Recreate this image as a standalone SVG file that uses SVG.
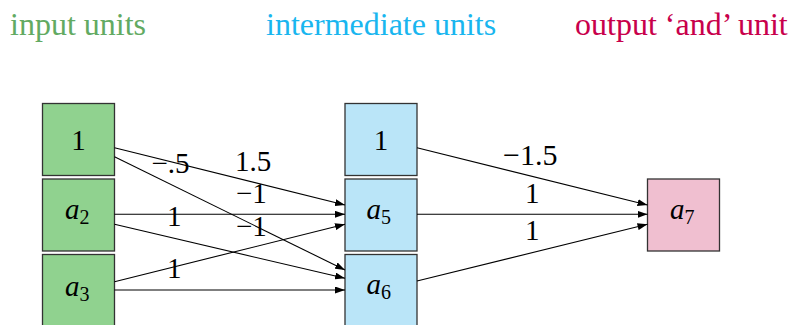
<svg xmlns="http://www.w3.org/2000/svg" width="794" height="325" viewBox="0 0 794 325" font-family="Liberation Serif, serif">
  <defs>
    <marker id="arrow" markerUnits="userSpaceOnUse" markerWidth="10" markerHeight="7" refX="10" refY="3.5" orient="auto">
      <path d="M0,0 L10,3.5 L0,7 z" fill="#000"/>
    </marker>
    <style>
      .box { stroke: #333; stroke-width: 1.3; }
      .in { fill: #90d28f; }
      .mid { fill: #bae5f8; }
      .out { fill: #f0bfd0; }
      .edge { stroke: #000; stroke-width: 1.1; fill: none; marker-end: url(#arrow); }
    </style>
  </defs>
  <rect width="794" height="325" fill="#fff"/>

  <!-- column headings -->
  <g font-size="32">
    <text x="10" y="35" fill="#62aa62">input units</text>
    <text x="266" y="35" fill="#19b6ef">intermediate units</text>
    <text x="575" y="35" fill="#c8004b">output ‘and’ unit</text>
  </g>

  <!-- input layer -->
  <g id="in-bias" font-size="29">
    <rect class="box in" x="42.5" y="103.5" width="72" height="72"/>
    <text x="78.5" y="150" text-anchor="middle">1</text>
  </g>
  <g id="a2" font-size="29">
    <rect class="box in" x="42.5" y="179" width="72" height="72"/>
    <text x="65" y="218.5" font-style="italic">a<tspan font-size="20" font-style="normal" dy="5">2</tspan></text>
  </g>
  <g id="a3" font-size="29">
    <rect class="box in" x="42.5" y="254.5" width="72" height="72"/>
    <text x="65" y="295.5" font-style="italic">a<tspan font-size="20" font-style="normal" dy="5">3</tspan></text>
  </g>

  <!-- intermediate layer -->
  <g id="mid-bias" font-size="29">
    <rect class="box mid" x="345" y="103.5" width="72" height="72"/>
    <text x="381" y="149.5" text-anchor="middle">1</text>
  </g>
  <g id="a5" font-size="29">
    <rect class="box mid" x="345" y="179" width="72" height="72"/>
    <text x="366.5" y="218.5" font-style="italic">a<tspan font-size="20" font-style="normal" dy="5">5</tspan></text>
  </g>
  <g id="a6" font-size="29">
    <rect class="box mid" x="345" y="254.5" width="72" height="72"/>
    <text x="366.5" y="293.5" font-style="italic">a<tspan font-size="20" font-style="normal" dy="5">6</tspan></text>
  </g>

  <!-- output layer -->
  <g id="a7" font-size="29">
    <rect class="box out" x="647.5" y="179" width="72" height="72"/>
    <text x="670" y="218.5" font-style="italic">a<tspan font-size="20" font-style="normal" dy="5">7</tspan></text>
  </g>

  <!-- weighted connections -->
  <g id="connectors">
    <line class="edge" x1="114.5" y1="147.7" x2="345" y2="205"/>
    <line class="edge" x1="114.5" y1="156.7" x2="345" y2="270"/>
    <line class="edge" x1="114.5" y1="214.3" x2="345" y2="214.3"/>
    <line class="edge" x1="114.5" y1="224.3" x2="345" y2="278.3"/>
    <line class="edge" x1="114.5" y1="281.7" x2="345" y2="224.3"/>
    <line class="edge" x1="114.5" y1="290" x2="345" y2="290"/>
    <line class="edge" x1="417" y1="147.7" x2="647.5" y2="205"/>
    <line class="edge" x1="417" y1="214.3" x2="647.5" y2="214.3"/>
    <line class="edge" x1="417" y1="281" x2="647.5" y2="224.3"/>
  </g>

  <!-- weights -->
  <g id="weights" font-size="29">
    <text x="151.5" y="173">−.5</text>
    <text x="235" y="171">1.5</text>
    <text x="236" y="203">−1</text>
    <text x="167" y="226">1</text>
    <text x="236" y="235.5">−1</text>
    <text x="167" y="278">1</text>
    <text x="503" y="165" font-size="30">−1.5</text>
    <text x="525" y="203">1</text>
    <text x="525" y="240">1</text>
  </g>
</svg>
